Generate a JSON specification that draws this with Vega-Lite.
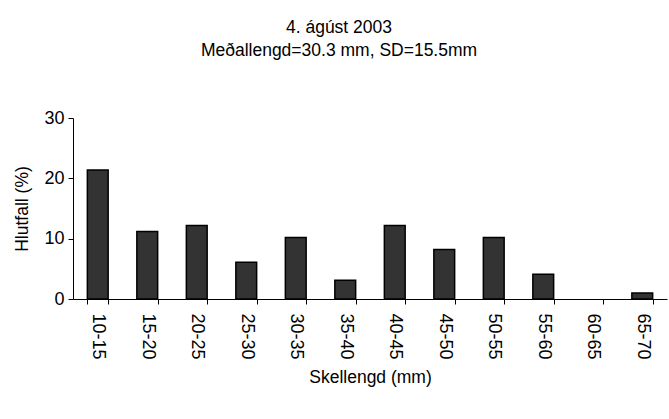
{
  "$schema": "https://vega.github.io/schema/vega-lite/v6.json",
  "autosize": "none",
  "width": 594,
  "height": 181,
  "padding": {"left": 73, "top": 118, "right": 2, "bottom": 120},
  "background": "white",
  "title": {
    "text": ["4. ágúst 2003", "Meðallengd=30.3 mm, SD=15.5mm"],
    "anchor": "middle",
    "frame": "group",
    "dx": -31,
    "offset": 50,
    "font": "Liberation Sans",
    "fontSize": 17.5,
    "fontWeight": "normal",
    "color": "black",
    "lineHeight": 23
  },
  "data": {
    "values": [
      {"flokkur": "10-15", "hlutfall": 21.4},
      {"flokkur": "15-20", "hlutfall": 11.2},
      {"flokkur": "20-25", "hlutfall": 12.2},
      {"flokkur": "25-30", "hlutfall": 6.1},
      {"flokkur": "30-35", "hlutfall": 10.2},
      {"flokkur": "35-40", "hlutfall": 3.1},
      {"flokkur": "40-45", "hlutfall": 12.2},
      {"flokkur": "45-50", "hlutfall": 8.2},
      {"flokkur": "50-55", "hlutfall": 10.2},
      {"flokkur": "55-60", "hlutfall": 4.1},
      {"flokkur": "60-65", "hlutfall": 0},
      {"flokkur": "65-70", "hlutfall": 1.0}
    ]
  },
  "mark": {"type": "bar", "fill": "#333333", "strokeWidth": 1.5},
  "encoding": {
    "x": {
      "field": "flokkur",
      "type": "ordinal",
      "sort": null,
      "scale": {"paddingInner": 0.58, "paddingOuter": 0.29},
      "axis": {
        "title": "Skellengd (mm)",
        "labelAngle": 90,
        "tickBand": "extent",
        "labelPadding": 9,
        "titlePadding": 9
      }
    },
    "y": {
      "field": "hlutfall",
      "type": "quantitative",
      "scale": {"domain": [0, 30], "nice": false},
      "axis": {
        "title": "Hlutfall (%)",
        "values": [0, 10, 20, 30],
        "grid": false,
        "labelPadding": 4,
        "titlePadding": 12
      }
    },
    "stroke": {
      "condition": {"test": "datum.hlutfall > 0", "value": "black"},
      "value": "transparent"
    }
  },
  "config": {
    "view": {"stroke": null},
    "font": "Liberation Sans",
    "axis": {
      "domainColor": "black",
      "tickColor": "black",
      "labelColor": "black",
      "titleColor": "black",
      "labelFont": "Liberation Sans",
      "titleFont": "Liberation Sans",
      "labelFontSize": 18,
      "titleFontSize": 17.5,
      "titleFontWeight": "normal",
      "tickSize": 5,
      "domainWidth": 1,
      "tickWidth": 1
    }
  }
}
